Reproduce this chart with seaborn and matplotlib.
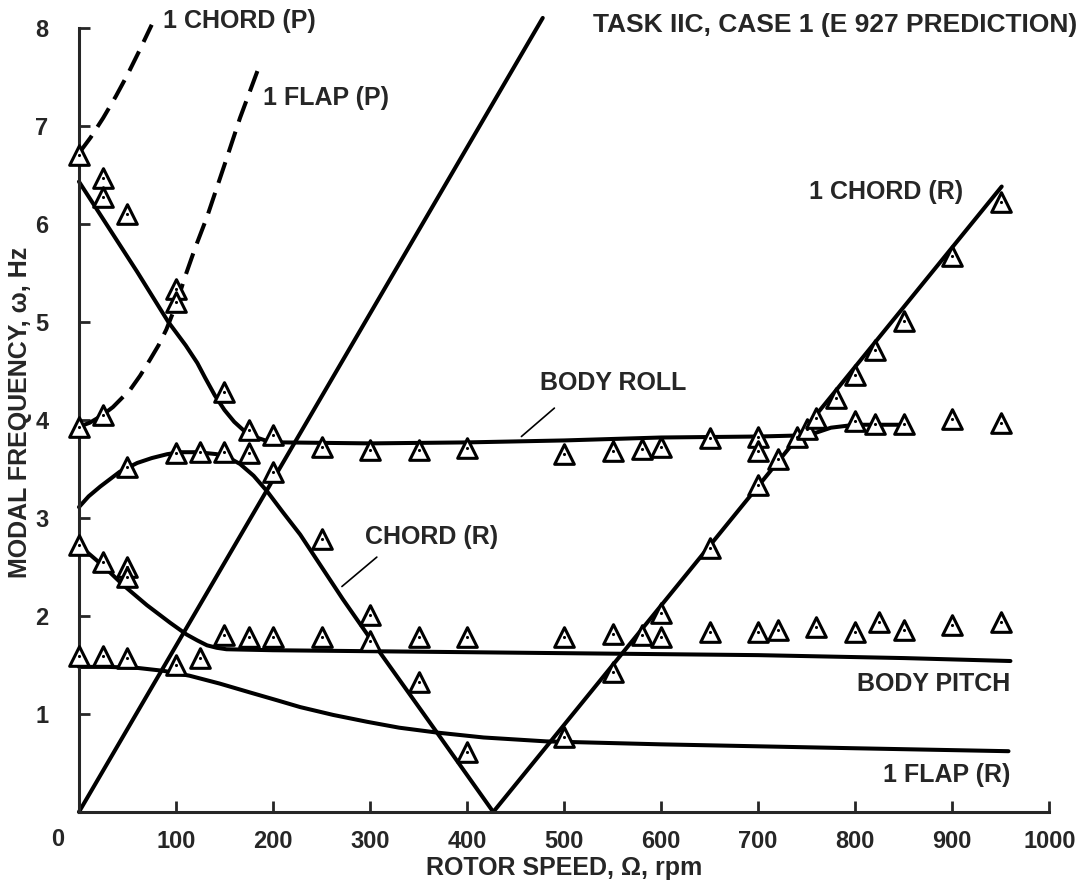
import matplotlib
matplotlib.use("Agg")
import matplotlib.pyplot as plt
import seaborn as sns

# ---- curves ----
roll_x = [0, 30, 60, 92, 110, 122, 130, 140, 150, 160, 170, 183, 195, 210, 300, 400, 500,
          600, 700, 740, 760, 775, 800, 853]
roll_y = [6.43, 5.97, 5.51, 5.0, 4.76, 4.58, 4.43, 4.25, 4.10, 3.98, 3.89, 3.82, 3.78, 3.77,
          3.76, 3.77, 3.79, 3.82, 3.83, 3.84, 3.87, 3.92, 3.95, 3.95]

chord_r_x = [0, 10, 22, 42, 60, 75, 91, 105, 122, 142, 155, 166, 180, 194, 210, 228, 272,
             310, 369, 427, 951]
chord_r_y = [3.11, 3.22, 3.32, 3.47, 3.56, 3.61, 3.65, 3.67, 3.67, 3.65, 3.61, 3.55, 3.43,
             3.27, 3.06, 2.83, 2.17, 1.63, 0.81, 0.0, 6.38]

pitch_x = [0, 12, 25, 45, 70, 94, 111, 122, 132, 142, 152, 200, 300, 500, 700, 850, 960]
pitch_y = [2.72, 2.62, 2.51, 2.32, 2.11, 1.93, 1.81, 1.75, 1.70, 1.675, 1.66, 1.65, 1.64,
           1.62, 1.60, 1.57, 1.54]

flap_r_x = [0, 30, 60, 87, 114, 145, 176, 204, 228, 262, 297, 330, 369, 417, 482, 600, 700,
            800, 958]
flap_r_y = [1.48, 1.48, 1.47, 1.44, 1.39, 1.31, 1.22, 1.14, 1.07, 0.99, 0.92, 0.86, 0.81,
            0.76, 0.72, 0.69, 0.67, 0.65, 0.62]

one_p_x = [0, 478]
one_p_y = [0, 8.1]

flap_p_x = [0, 11, 23, 35, 53, 63, 73, 82, 90, 100, 109, 120, 132, 152, 166, 187]
flap_p_y = [3.93, 3.97, 4.04, 4.13, 4.31, 4.45, 4.61, 4.76, 4.92, 5.17, 5.45, 5.76, 6.07,
            6.66, 7.08, 7.64]

chord_p_x = [0, 12, 25, 38, 50, 62, 75]
chord_p_y = [6.72, 6.88, 7.08, 7.30, 7.52, 7.76, 8.03]

# ---- test points (triangles) ----
test_x = [0, 25, 25, 50, 100, 100,
          0, 25, 150, 175, 200, 250, 300, 350, 400,
          50, 100, 125, 150, 175, 200, 250,
          0, 25, 50, 50,
          0, 25, 50, 100, 125, 150, 175, 200, 250, 300, 300, 350, 400, 350, 400, 500,
          500, 550, 580, 600, 650, 700, 700, 720, 700, 650, 550,
          740, 750, 760, 780, 800, 820, 850, 900, 950,
          800, 820, 850, 900, 950,
          500, 550, 580, 600, 600, 650, 700, 720, 760, 800, 825, 850, 900, 950]
test_y = [6.70, 6.47, 6.27, 6.10, 5.33, 5.20,
          3.93, 4.05, 4.28, 3.90, 3.85, 3.72, 3.69, 3.69, 3.71,
          3.52, 3.66, 3.67, 3.67, 3.66, 3.47, 2.78,
          2.72, 2.55, 2.50, 2.40,
          1.59, 1.59, 1.57, 1.50, 1.57, 1.81, 1.79, 1.79, 1.79, 2.01, 1.74, 1.79, 1.79, 1.33, 0.61, 0.76,
          3.65, 3.68, 3.70, 3.72, 3.81, 3.82, 3.68, 3.60, 3.34, 2.69, 1.43,
          3.82, 3.91, 4.02, 4.22, 4.46, 4.71, 5.01, 5.67, 6.22,
          3.99, 3.96, 3.96, 4.01, 3.97,
          1.79, 1.82, 1.81, 2.03, 1.79, 1.84, 1.84, 1.86, 1.89, 1.84, 1.94, 1.86, 1.91, 1.94]

x_ticks = [100, 200, 300, 400, 500, 600, 700, 800, 900, 1000]
y_ticks = [1, 2, 3, 4, 5, 6, 7, 8]

sns.set_style("ticks")
plt.rcParams['font.family'] = ['Liberation Sans', 'DejaVu Sans']
plt.rcParams['font.weight'] = 'bold'

fig = plt.figure(figsize=(10.89, 8.85), dpi=100)
ax = fig.add_axes([0.0725, 0.0825, 0.891, 0.9028])

LW = 2.9
for xs, ys in [(roll_x, roll_y), (chord_r_x, chord_r_y), (pitch_x, pitch_y),
               (flap_r_x, flap_r_y), (one_p_x, one_p_y)]:
    sns.lineplot(x=xs, y=ys, ax=ax, color="black", linewidth=LW, sort=False,
                 estimator=None, clip_on=False)
for xs, ys in [(flap_p_x, flap_p_y), (chord_p_x, chord_p_y)]:
    sns.lineplot(x=xs, y=ys, ax=ax, color="black", linewidth=LW, sort=False,
                 estimator=None, clip_on=False)
    ax.lines[-1].set_dashes([5.4, 2.6])

# leader lines
sns.lineplot(x=[490, 456], y=[4.12, 3.83], ax=ax, color="black", linewidth=1.2, sort=False, estimator=None)
sns.lineplot(x=[307, 271], y=[2.60, 2.30], ax=ax, color="black", linewidth=1.2, sort=False, estimator=None)

sns.scatterplot(x=test_x, y=test_y, ax=ax, marker="^", s=200, facecolor="white",
                edgecolor="black", linewidth=2.2, clip_on=False, zorder=5)
sns.scatterplot(x=test_x, y=test_y, ax=ax, marker="o", s=5, color="black",
                linewidth=0, clip_on=False, zorder=6)

ax.set_xlim(0, 1000)
ax.set_ylim(0, 8.15)
ax.set_xticks(x_ticks)
ax.set_yticks(y_ticks)
sns.despine(ax=ax)
for side in ["left", "bottom"]:
    ax.spines[side].set_linewidth(2.2)
ax.spines["left"].set_bounds(0, 8)
ax.tick_params(direction="in", length=8, width=2, labelsize=17)
ax.tick_params(axis="y", pad=22)
ax.tick_params(axis="x", pad=13)
ax.text(-22, -0.28, "0", fontsize=17, ha="center", va="center", clip_on=False)

ax.set_xlabel("ROTOR SPEED, \u03a9, rpm", fontsize=18, fontweight="bold", labelpad=2)
ax.set_ylabel("MODAL FREQUENCY, \u03c9, Hz", fontsize=18, fontweight="bold", labelpad=2)

tkw = dict(fontsize=18, va="center", ha="left")
ax.text(87, 8.07, "1 CHORD (P)", clip_on=False, **tkw)
ax.text(190, 7.28, "1 FLAP (P)", **tkw)
ax.text(752, 6.32, "1 CHORD (R)", **tkw)
ax.text(475, 4.38, "BODY ROLL", **tkw)
ax.text(295, 2.81, "CHORD (R)", **tkw)
ax.text(960, 1.31, "BODY PITCH", fontsize=18, va="center", ha="right")
ax.text(960, 0.38, "1 FLAP (R)", fontsize=18, va="center", ha="right")
fig.text(0.989, 0.972, "TASK IIC, CASE 1 (E 927 PREDICTION)", fontsize=19,
         ha="right", va="center")

fig.savefig("out.png", dpi=100)
